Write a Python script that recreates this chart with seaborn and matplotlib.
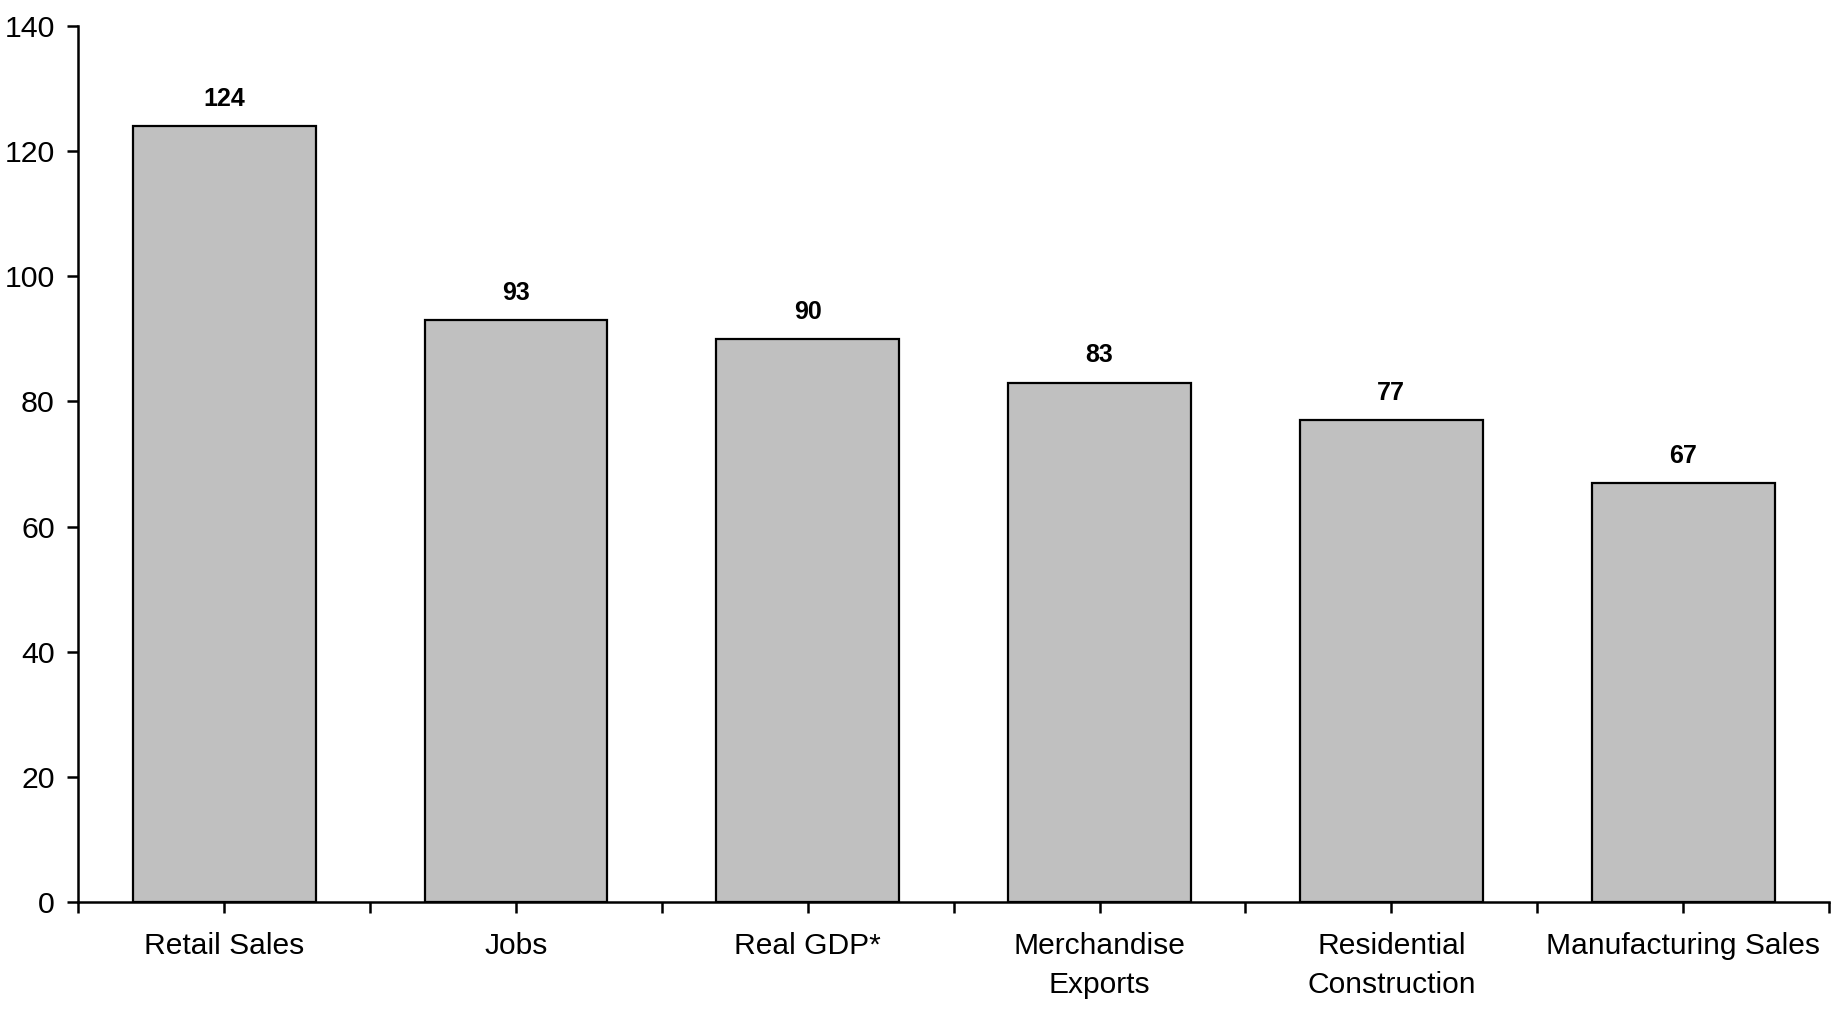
import matplotlib
matplotlib.use("Agg")
import matplotlib.pyplot as plt
import seaborn as sns
import numpy as np

categories = ["Retail Sales", "Jobs", "Real GDP*", "Merchandise\nExports",
              "Residential\nConstruction", "Manufacturing Sales"]
values = [124, 93, 90, 83, 77, 67]
y_ticks = [0, 20, 40, 60, 80, 100, 120, 140]

sns.set_theme(style="white")
plt.rcParams['font.family'] = ['Liberation Sans', 'DejaVu Sans']

fig = plt.figure(figsize=(18.35, 10.09), dpi=100)
ax = fig.add_axes([0.0427, 0.1057, 0.9967 - 0.0427, 0.9745 - 0.1057])

sns.barplot(x=categories, y=values, color="#c0c0c0", edgecolor="black",
            linewidth=1.6, width=0.627, saturation=1, ax=ax)

ax.set_xlim(-0.5, len(categories) - 0.5)
ax.set_ylim(0, 140)
ax.set_yticks(y_ticks)
ax.set_yticklabels([str(t) for t in y_ticks], fontsize=21.8)
ax.set_xticks(range(len(categories)))
ax.set_xticklabels(categories, fontsize=21.6, linespacing=1.5)
ax.set_xticks(np.arange(-0.5, len(categories), 1.0), minor=True)
ax.tick_params(axis="both", which="both", direction="out", length=8, width=1.8,
               color="black", labelcolor="black", bottom=True, left=True)
ax.tick_params(axis="x", which="major", pad=13.5)
ax.tick_params(axis="y", which="major", pad=9)

for side in ["top", "right"]:
    ax.spines[side].set_visible(False)
for side in ["left", "bottom"]:
    ax.spines[side].set_color("black")
    ax.spines[side].set_linewidth(1.8)

for i, v in enumerate(values):
    ax.annotate(str(v), (i, v), xytext=(0, 11), textcoords="offset points",
                ha="center", va="bottom", fontsize=18, fontweight="bold",
                color="black")

ax.set_xlabel("")
ax.set_ylabel("")
fig.savefig("out.png", dpi=100, facecolor="white")
